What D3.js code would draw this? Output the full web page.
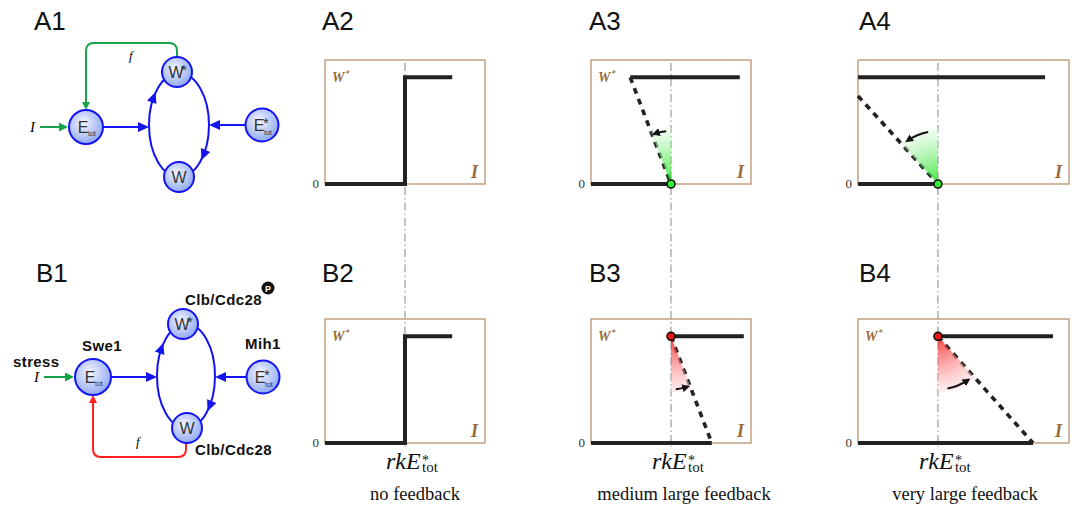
<!DOCTYPE html>
<html>
<head>
<meta charset="utf-8">
<script src="https://cdn.jsdelivr.net/npm/d3@7"></script>
<style>
  body { margin: 0; background: #fff; }
  svg { display: block; }
</style>
</head>
<body>
<script>
// bifurcation sketches: threshold rkE*tot sits at I = 1 in every panel
const panelIds = ["A2", "A3", "A4", "B2", "B3", "B4"];
const iMax = [2.0, 2.0, 2.64, 2.0, 2.0, 2.64];
const wHigh = 0.86;
const threshold = 1;
const lowerEnd = [1, 1, 1, 1, 1.51, 2.19];
const upperStart = [1, 0.49, 0, 1, 1, 1];
const upperEnd = [1.59, 1.86, 2.34, 1.59, 1.91, 2.44];
const unstableFrom = [null, [0.49, 0.86], [0, 0.71], null, [1, 0.86], [1, 0.86]];
const unstableTo = [null, [1, 0], [1, 0], null, [1.51, 0], [2.19, 0]];
const switchPoint = [null, [1, 0], [1, 0], null, [1, 0.86], [1, 0.86]];
const feedback = ["none", "positive", "positive", "none", "negative", "negative"];
const showWLabel = [true, true, false, true, true, true];
const captions = ["no feedback", "medium large feedback", "very large feedback"];
const letters = ["A1", "A2", "A3", "A4", "B1", "B2", "B3", "B4"];

const width = 1078, height = 508;

var svg = d3.select("body")
            .append("svg")
            .attr("width", width)
            .attr("height", height);

var defs = svg.append("defs");

var ng = defs.append("radialGradient").attr("id", "nodeFill")
             .attr("cx", "42%").attr("cy", "38%").attr("r", "65%");
ng.append("stop").attr("offset", "0%").attr("stop-color", "#f4f6ff");
ng.append("stop").attr("offset", "100%").attr("stop-color", "#8ca6f2");

defs.append("marker")
    .attr("id", "tipBlack")
    .attr("viewBox", "0 0 10 10")
    .attr("refX", 5).attr("refY", 5)
    .attr("markerWidth", 8).attr("markerHeight", 8)
    .attr("markerUnits", "userSpaceOnUse")
    .attr("orient", "auto")
  .append("path")
    .attr("d", "M0,0 L10,5 L0,10 z")
    .attr("fill", "#111");

const sans = "'Liberation Sans', Arial, sans-serif";
const serif = "'Liberation Serif', 'Times New Roman', serif";
const blue = "#1414f0", green = "#16a34a", red = "#ff1f1f";
const brown = "#9a6a3a", boxColor = "#b8946f";

// ---------- panel letters ----------
const letterX = [34, 322, 589, 859, 36, 322, 589, 859];
svg.selectAll("text.letter")
   .data(letters)
   .enter()
   .append("text")
     .attr("class", "letter")
     .attr("x", (d, i) => letterX[i])
     .attr("y", (d, i) => i < 4 ? 30 : 282)
     .attr("font-family", sans)
     .attr("font-size", 26)
     .attr("fill", "#111")
     .text(d => d);

// ---------- network diagrams ----------
function arrowHead(g, x, y, ang, color, len, half) {
  const bx = x - len * Math.cos(ang), by = y - len * Math.sin(ang);
  const px = -Math.sin(ang) * half, py = Math.cos(ang) * half;
  g.append("path")
   .attr("d", "M" + x + "," + y + "L" + (bx + px) + "," + (by + py) + "L" + (bx - px) + "," + (by - py) + "Z")
   .attr("fill", color);
}

function node(g, n, kind) {
  g.append("circle")
   .attr("cx", n.x).attr("cy", n.y).attr("r", n.r)
   .attr("fill", "url(#nodeFill)")
   .attr("stroke", blue).attr("stroke-width", 2);
  const t = g.append("g").attr("font-family", sans).attr("fill", "#333");
  if (kind == "Etot") {
    t.append("text").attr("x", n.x - 3).attr("y", n.y + 6).attr("text-anchor", "middle")
     .attr("font-size", 16).text("E");
    t.append("text").attr("x", n.x + 2).attr("y", n.y + 9).attr("font-size", 7).text("tot");
  } else if (kind == "Est") {
    t.append("text").attr("x", n.x - 3).attr("y", n.y + 6).attr("text-anchor", "middle")
     .attr("font-size", 16).text("E");
    t.append("text").attr("x", n.x + 1).attr("y", n.y + 3).attr("font-size", 15).text("*");
    t.append("text").attr("x", n.x + 2).attr("y", n.y + 10).attr("font-size", 7).text("tot");
  } else if (kind == "Wst") {
    t.append("text").attr("x", n.x - 1).attr("y", n.y + 6).attr("text-anchor", "middle")
     .attr("font-size", 16).text("W");
    t.append("text").attr("x", n.x + 4).attr("y", n.y + 3).attr("font-size", 15).text("*");
  } else {
    t.append("text").attr("x", n.x).attr("y", n.y + 6).attr("text-anchor", "middle")
     .attr("font-size", 16).text("W");
  }
}

function network(cfg) {
  const g = svg.append("g");
  const e = cfg.ell;
  g.append("ellipse")
   .attr("cx", e.cx).attr("cy", e.cy).attr("rx", e.rx).attr("ry", e.ry)
   .attr("fill", "none").attr("stroke", blue).attr("stroke-width", 2);
  // arrows along the cycle
  [cfg.upAngle, cfg.downAngle].forEach(t => {
    const x = e.cx + e.rx * Math.cos(t), y = e.cy + e.ry * Math.sin(t);
    const ang = Math.atan2(e.ry * Math.cos(t), -e.rx * Math.sin(t));
    arrowHead(g, x + 5 * Math.cos(ang), y + 5 * Math.sin(ang), ang, blue, 11, 5);
  });
  // E_tot -> cycle, E*_tot -> cycle
  g.append("line").attr("x1", cfg.E.x + cfg.E.r).attr("y1", cfg.E.y)
   .attr("x2", e.cx - e.rx - 8).attr("y2", cfg.E.y)
   .attr("stroke", blue).attr("stroke-width", 2);
  arrowHead(g, e.cx - e.rx, cfg.E.y, 0, blue, 11, 5);
  g.append("line").attr("x1", cfg.Es.x - cfg.Es.r).attr("y1", cfg.Es.y)
   .attr("x2", e.cx + e.rx + 8).attr("y2", cfg.Es.y)
   .attr("stroke", blue).attr("stroke-width", 2);
  arrowHead(g, e.cx + e.rx, cfg.Es.y, Math.PI, blue, 11, 5);
  // input I
  g.append("line").attr("x1", cfg.inX).attr("y1", cfg.E.y)
   .attr("x2", cfg.E.x - cfg.E.r - 7).attr("y2", cfg.E.y)
   .attr("stroke", green).attr("stroke-width", 2);
  arrowHead(g, cfg.E.x - cfg.E.r - 1, cfg.E.y, 0, green, 9, 4.5);
  g.append("text").attr("x", cfg.inX - 10).attr("y", cfg.E.y + 5)
   .attr("font-family", serif).attr("font-style", "italic").attr("font-size", 15).text("I");
  // feedback loop
  g.append("path").attr("d", cfg.fbPath)
   .attr("fill", "none").attr("stroke", cfg.fbColor).attr("stroke-width", 2);
  arrowHead(g, cfg.fbTip[0], cfg.fbTip[1], cfg.fbTip[2], cfg.fbColor, 8, 4);
  g.append("text").attr("x", cfg.fPos[0]).attr("y", cfg.fPos[1])
   .attr("font-family", serif).attr("font-style", "italic").attr("font-size", 13).text("f");
  node(g, cfg.E, "Etot");
  node(g, cfg.Ws, "Wst");
  node(g, cfg.W, "W");
  node(g, cfg.Es, "Est");
  return g;
}

const upA = 213 * Math.PI / 180, downA = 36 * Math.PI / 180;

network({
  ell: {cx: 179, cy: 125, rx: 30, ry: 52},
  E: {x: 86, y: 127, r: 17}, Ws: {x: 177, y: 72, r: 15},
  W: {x: 179, y: 177, r: 15}, Es: {x: 262, y: 125, r: 16.5},
  upAngle: upA, downAngle: downA, inX: 40,
  fbPath: "M177,57 V51 Q177,43 169,43 H94 Q86,43 86,51 V103",
  fbTip: [86, 110, Math.PI / 2], fbColor: green, fPos: [129, 60]
});

const b1 = network({
  ell: {cx: 186, cy: 376, rx: 29, ry: 52},
  E: {x: 93, y: 377, r: 18}, Ws: {x: 183, y: 324, r: 15},
  W: {x: 187, y: 428, r: 15}, Es: {x: 263, y: 377, r: 16.5},
  upAngle: upA, downAngle: downA, inX: 44,
  fbPath: "M186,443 V449 Q186,457 178,457 H101 Q93,457 93,449 V402",
  fbTip: [93, 395, -Math.PI / 2], fbColor: red, fPos: [136, 446]
});

const b1Labels = [["Clb/Cdc28", 185, 305], ["Swe1", 82, 351], ["Mih1", 245, 349],
                  ["stress", 13, 367], ["Clb/Cdc28", 195, 455]];
b1.selectAll("text.bl")
  .data(b1Labels)
  .enter()
  .append("text")
    .attr("class", "bl")
    .attr("x", d => d[1]).attr("y", d => d[2])
    .attr("font-family", sans).attr("font-weight", "bold")
    .attr("font-size", 15).attr("letter-spacing", 0.4)
    .attr("fill", "#111")
    .text(d => d[0]);
b1.append("circle").attr("cx", 268).attr("cy", 288).attr("r", 6.5).attr("fill", "#111");
b1.append("text").attr("x", 268).attr("y", 291.5).attr("text-anchor", "middle")
  .attr("font-family", sans).attr("font-weight", "bold").attr("font-size", 9)
  .attr("fill", "#fff").text("P");

// ---------- bifurcation panels ----------
const colX = [325, 591, 858], colW = [160, 160, 211], rowY = [60, 319], boxH = 124;
const captionX = [415, 684, 965];
const line = d3.line();

panelIds.forEach((id, i) => {
  const col = i % 3, row = Math.floor(i / 3);
  const x = d3.scaleLinear().domain([0, iMax[i]]).range([colX[col], colX[col] + colW[col]]);
  const y = d3.scaleLinear().domain([0, 1]).range([rowY[row] + boxH, rowY[row]]);
  const p = d => [x(d[0]), y(d[1])];
  const g = svg.append("g");

  g.append("rect")
   .attr("x", x(0)).attr("y", y(1))
   .attr("width", x(iMax[i]) - x(0)).attr("height", y(0) - y(1))
   .attr("fill", "none").attr("stroke", boxColor).attr("stroke-width", 1.3);

  // dash-dot guide at the threshold, drawn once per column
  if (row == 0) {
    g.append("line")
     .attr("x1", x(threshold)).attr("x2", x(threshold))
     .attr("y1", 63).attr("y2", 447)
     .attr("stroke", "#b4b4b4").attr("stroke-width", 1.6)
     .attr("stroke-dasharray", "8,3,1.5,3");
  }

  const thick = s => s.attr("fill", "none").attr("stroke", "#222").attr("stroke-width", 4);

  if (feedback[i] == "none") {
    thick(g.append("path")
     .attr("d", line([[0, 0], [threshold, 0], [threshold, wHigh], [upperEnd[i], wHigh]].map(p))));
  } else {
    thick(g.append("path").attr("d", line([[0, 0], [lowerEnd[i], 0]].map(p))));
    thick(g.append("path").attr("d", line([[upperStart[i], wHigh], [upperEnd[i], wHigh]].map(p))));
    thick(g.append("path").attr("d", line([unstableFrom[i], unstableTo[i]].map(p))))
      .attr("stroke-width", 3.6).attr("stroke-dasharray", "6,5.5");

    // shaded wedge between the guide and the unstable branch
    const sp = p(switchPoint[i]);
    const other = feedback[i] == "positive" ? p(unstableFrom[i]) : p(unstableTo[i]);
    const aDash = Math.atan2(other[0] - sp[0], -(other[1] - sp[1]));
    const aVert = feedback[i] == "positive" ? 0 : Math.PI;
    const R = 56;
    const gid = "fan" + id;
    const rg = defs.append("radialGradient").attr("id", gid)
                   .attr("gradientUnits", "userSpaceOnUse")
                   .attr("cx", 0).attr("cy", 0).attr("r", R);
    const c = feedback[i] == "positive" ? ["#12e012", "#e4fbe4"] : ["#f51414", "#fde0e0"];
    rg.append("stop").attr("offset", "0%").attr("stop-color", c[0]).attr("stop-opacity", 1);
    rg.append("stop").attr("offset", "100%").attr("stop-color", c[1]).attr("stop-opacity", 0.6);
    g.append("path")
     .attr("transform", "translate(" + sp[0] + "," + sp[1] + ")")
     .attr("d", d3.arc()({innerRadius: 0, outerRadius: R,
                          startAngle: Math.min(aDash, aVert), endAngle: Math.max(aDash, aVert)}))
     .attr("fill", "url(#" + gid + ")")
     .attr("opacity", 0.82);

    // curved arrow from the guide toward the unstable branch
    const a0 = aVert + 0.25 * (aDash - aVert), a1 = aVert + 0.8 * (aDash - aVert);
    const ap = d3.path();
    ap.arc(sp[0], sp[1], R - 3, a0 - Math.PI / 2, a1 - Math.PI / 2, a1 < a0);
    g.append("path").attr("d", ap.toString())
     .attr("fill", "none").attr("stroke", "#111").attr("stroke-width", 2)
     .attr("marker-end", "url(#tipBlack)");

    g.append("circle").attr("cx", sp[0]).attr("cy", sp[1]).attr("r", 4)
     .attr("fill", feedback[i] == "positive" ? "#2ef02e" : "#ee1515")
     .attr("stroke", "#111").attr("stroke-width", 1.6);
  }

  g.append("text").attr("x", x(0) - 6).attr("y", y(0) + 4).attr("text-anchor", "end")
   .attr("font-family", serif).attr("font-size", 13).attr("fill", "#333").text("0");
  g.append("text").attr("x", x(iMax[i]) - 7).attr("y", y(0) - 6).attr("text-anchor", "end")
   .attr("font-family", serif).attr("font-style", "italic").attr("font-weight", "bold")
   .attr("font-size", 18).attr("fill", brown).text("I");
  if (showWLabel[i]) {
    const wl = g.append("text").attr("x", x(0) + 7).attr("y", y(1) + 22)
                .attr("font-family", serif).attr("font-style", "italic").attr("font-weight", "bold")
                .attr("font-size", 14).attr("fill", brown);
    wl.append("tspan").text("W");
    wl.append("tspan").attr("font-size", 8).attr("dy", -6).attr("dx", 1).text("*");
  }

  if (row == 1) {
    const tx = x(threshold);
    g.append("text").attr("x", tx - 19).attr("y", 469)
     .attr("font-family", serif).attr("font-style", "italic").attr("font-size", 24)
     .attr("fill", "#111").text("rkE");
    g.append("text").attr("x", tx + 17).attr("y", 465)
     .attr("font-family", serif).attr("font-size", 14).attr("fill", "#111").text("*");
    g.append("text").attr("x", tx + 17).attr("y", 472)
     .attr("font-family", serif).attr("font-size", 15).attr("fill", "#111").text("tot");
    g.append("text").attr("x", captionX[col]).attr("y", 500).attr("text-anchor", "middle")
     .attr("font-family", serif).attr("font-size", 18.5).attr("fill", "#111")
     .text(captions[col]);
  }
});
</script>
</body>
</html>
